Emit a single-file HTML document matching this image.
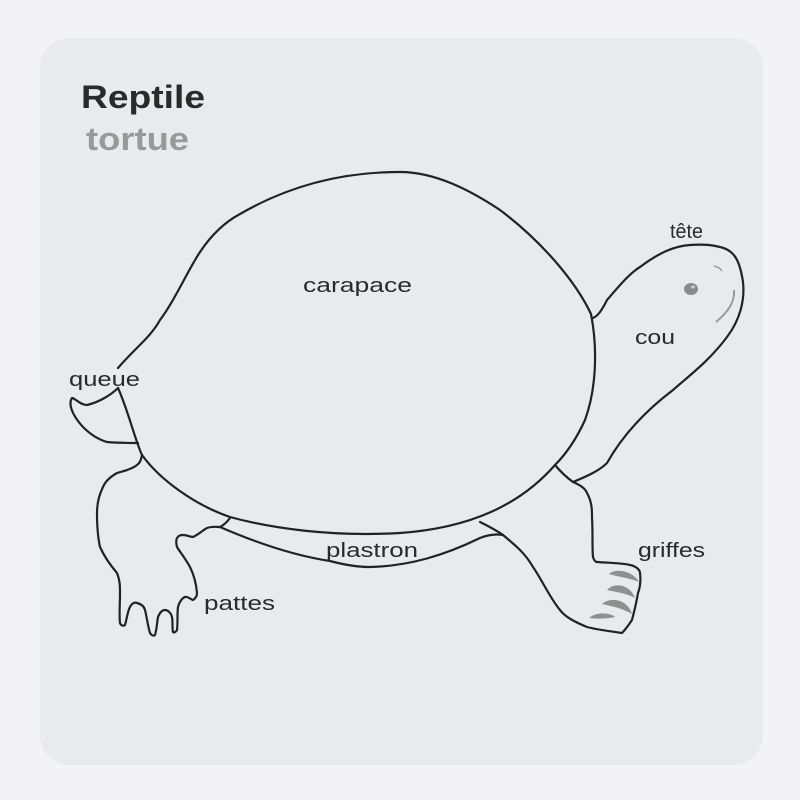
<!DOCTYPE html>
<html><head><style>
html,body{margin:0;padding:0;background:#f3f3f6;}
svg{display:block}
</style></head><body>
<svg width="800" height="800" viewBox="0 0 800 800" xmlns="http://www.w3.org/2000/svg">
<rect x="0" y="0" width="800" height="800" fill="#f3f3f6"/>
<rect x="40" y="38" width="723" height="727" rx="30" fill="#e9eaed"/>
<text x="81" y="108" font-family="Liberation Sans, sans-serif" font-weight="bold" font-size="32" fill="#2a2a2a" textLength="124" lengthAdjust="spacingAndGlyphs">Reptile</text>
<text x="86" y="150" font-family="Liberation Sans, sans-serif" font-weight="bold" font-size="32" fill="#999" textLength="103" lengthAdjust="spacingAndGlyphs">tortue</text>
<g fill="none" stroke="#222" stroke-width="2.2" stroke-linecap="round" stroke-linejoin="round">
<!-- shell -->
<path d="M118,368 C135,348 150,338 160,320 C175,300 188,270 200,252 C212,234 225,222 240,214 C290,185 345,172 400,172 C435,172 470,190 500,210 C540,240 575,280 591,314 C598,350 596,390 585,420 C575,442 565,455 555,465 C520,505 470,528 400,533 C330,537 270,528 230,517 C195,505 160,480 142,455 C135,440 128,410 118,388"/>
<!-- tail -->
<path d="M118,388 C112,394 100,402 87,405 C80,405 75,398 72,398 C68,404 72,415 83,427 C92,436 100,440 107,442 C118,443 130,443 138,443"/>
<!-- neck/head -->
<path d="M593,318 C598,316 602,310 607,300 C620,285 630,273 640,267 C660,252 675,246 690,245 C705,244 712,245 720,247 C735,250 740,262 743,282 C745,300 740,320 727,337 C710,360 690,375 673,390 C640,415 620,440 607,463 C600,470 590,475 573,482 C566,477 560,471 555,465"/>
<!-- front leg -->
<path d="M573,482 C580,485 585,488 587,493 C592,502 592,510 592,517 C593,535 592,548 593,557 C594,560 595,562 597,562 C610,563 622,563 630,565 C636,566 640,570 640,573 C641,580 640,588 638,593 C636,605 634,612 632,620 C628,626 625,630 622,633 C610,631 598,630 587,627 C575,622 565,617 560,610 C550,598 542,580 533,567 C525,553 515,545 503,535"/>
<path d="M480,522 C488,526 496,530 503,535"/>
<!-- plastron lower -->
<path d="M220,527 C250,540 290,555 330,561 C345,565 360,567 370,567 C410,566 445,555 480,538 C490,534 497,534 503,535"/>
<path d="M230,518 C227,522 224,525 220,527"/>
<!-- back leg -->
<path d="M142,455 C141,460 140,463 137,465 C132,469 124,471 117,473 C110,477 105,482 103,487 C99,495 97,503 97,513 C97,525 98,538 100,547 C105,558 111,566 117,573 C120,580 120,587 120,593 C120,605 119,615 120,623 C121,626 124,626 125,625 C127,618 128,610 130,607 C132,603 135,602 137,603 C141,604 144,606 145,610 C147,618 148,627 150,633 C152,636 154,636 155,635 C157,628 157,622 158,617 C160,612 162,610 165,610 C168,610 171,613 172,617 C173,622 172,628 173,632 C174,633 176,632 177,630 C178,622 177,614 178,607 C180,600 184,596 187,597 C190,598 192,600 193,600 C196,598 197,596 197,593 C196,582 194,575 190,567 C185,558 180,552 177,547 C176,543 176,540 177,538 C179,535 181,535 183,535 C187,535 190,537 193,537 C198,535 203,530 207,528 C212,526 216,527 220,527"/>
</g>
<!-- eye & mouth -->
<ellipse cx="691" cy="289" rx="7" ry="6" fill="#8a8a8a"/>
<ellipse cx="693" cy="287" rx="2" ry="1.5" fill="#ccc"/>
<path d="M734,290 C735,302 728,312 716,322" fill="none" stroke="#999" stroke-width="2"/>
<path d="M714,266 C718,267 720,268 722,271" fill="none" stroke="#999" stroke-width="1.5"/>
<!-- claws -->
<g fill="#8f8f8f">
<path d="M609,574 C615,568 632,570 639,582 C630,578 618,577 609,574Z"/>
<path d="M607,590 C614,582 630,584 635,598 C626,593 615,592 607,590Z"/>
<path d="M602,604 C611,596 628,600 632,614 C622,608 611,606 602,604Z"/>
<path d="M589,618 C597,611 611,613 615,617 C607,619 597,619 589,618Z"/>
</g>
<g font-family="Liberation Sans, sans-serif" font-size="20" fill="#2a2a2a" lengthAdjust="spacingAndGlyphs">
<text x="303" y="292" textLength="109" lengthAdjust="spacingAndGlyphs">carapace</text>
<text x="635" y="344" textLength="40" lengthAdjust="spacingAndGlyphs">cou</text>
<text x="670" y="238" textLength="33" lengthAdjust="spacingAndGlyphs">tête</text>
<text x="69" y="386" textLength="71" lengthAdjust="spacingAndGlyphs">queue</text>
<text x="326" y="557" textLength="92" lengthAdjust="spacingAndGlyphs">plastron</text>
<text x="204" y="610" textLength="71" lengthAdjust="spacingAndGlyphs">pattes</text>
<text x="638" y="557" textLength="67" lengthAdjust="spacingAndGlyphs">griffes</text>
</g>
</svg>
</body></html>
